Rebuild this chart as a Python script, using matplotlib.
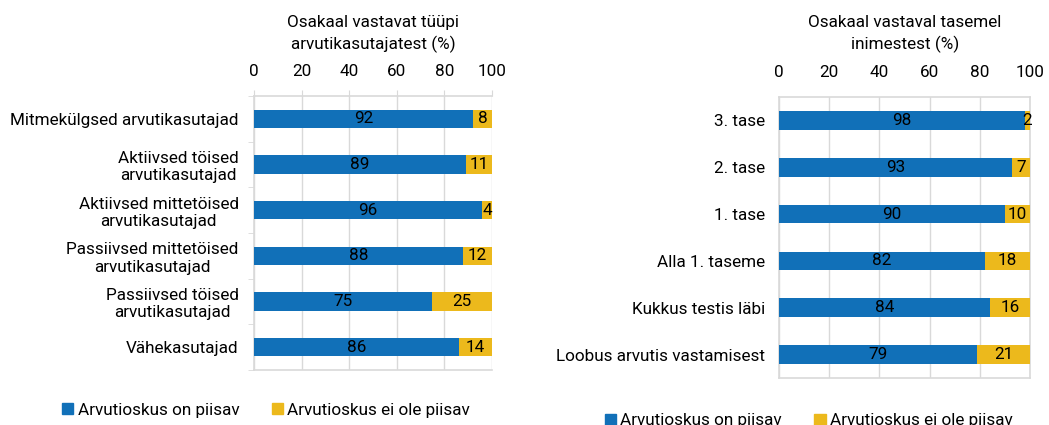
import matplotlib.pyplot as plt
from matplotlib.patches import Patch

plt.rcParams['font.family'] = ['Roboto', 'DejaVu Sans']
FS = 12.3
plt.rcParams['font.size'] = FS

# user types
types = ["Mitmekülgsed arvutikasutajad", "Aktiivsed töised\narvutikasutajad",
         "Aktiivsed mittetöised\narvutikasutajad", "Passiivsed mittetöised\narvutikasutajad",
         "Passiivsed töised\narvutikasutajad", "Vähekasutajad"]
types_ok = [92, 89, 96, 88, 75, 86]
types_not = [8, 11, 4, 12, 25, 14]

# skill levels
levels = ["3. tase", "2. tase", "1. tase", "Alla 1. taseme",
          "Kukkus testis läbi", "Loobus arvutis vastamisest"]
levels_ok = [98, 93, 90, 82, 84, 79]
levels_not = [2, 7, 10, 18, 16, 21]

ticks = [0, 20, 40, 60, 80, 100]
series_names = ["Arvutioskus on piisav", "Arvutioskus ei ole piisav"]

BLUE = "#1170B8"
YELLOW = "#ECB91C"
GRID = "#D9D9D9"


def draw_panel(ax, cats, ok, nok, boxed):
    pos = list(range(len(cats)))
    ax.barh(pos, ok, height=0.4, color=BLUE, zorder=3)
    ax.barh(pos, nok, left=ok, height=0.4, color=YELLOW, zorder=3)
    for p, a, b in zip(pos, ok, nok):
        ax.text(a / 2, p, str(a), ha='center', va='center', fontsize=FS, zorder=4)
        ax.text(a + b / 2, p, str(b), ha='center', va='center', fontsize=FS, zorder=4)
    ax.set_xlim(0, 100)
    ax.set_ylim(len(cats) - 0.5, -0.5)
    ax.set_xticks(ticks)
    ax.xaxis.tick_top()
    ax.grid(axis='x', color=GRID, lw=1, zorder=0)
    ax.set_yticks(pos)
    ax.set_yticklabels(cats, multialignment='center', linespacing=1.2)
    for s in ax.spines.values():
        s.set_color(GRID)
        s.set_linewidth(1.2)
    if boxed:
        ax.tick_params(axis='x', length=0, pad=12, labelsize=FS)
        ax.tick_params(axis='y', length=0, pad=10, labelsize=FS)
    else:
        ax.spines['right'].set_visible(False)
        ax.tick_params(axis='x', length=4.5, color=GRID, pad=8, labelsize=FS)
        ax.set_yticks([p + 0.5 for p in [-1] + pos], minor=True)
        ax.tick_params(axis='y', which='major', length=0, pad=11, labelsize=FS)
        ax.tick_params(axis='y', which='minor', length=4.5, color=GRID)


fig = plt.figure(figsize=(10.49, 4.25), dpi=100)
ax1 = fig.add_axes([0.2421, 0.1294, 0.2269, 0.6447])
ax2 = fig.add_axes([0.7426, 0.1106, 0.2393, 0.6612])

draw_panel(ax1, types, types_ok, types_not, boxed=False)
draw_panel(ax2, levels, levels_ok, levels_not, boxed=True)

fig.text(0.3556, 1 - 34 / 425, "Osakaal vastavat tüüpi\narvutikasutajatest (%)",
         ha='center', va='center', fontsize=FS, linespacing=1.4)
fig.text(0.8624, 1 - 34 / 425, "Osakaal vastaval tasemel\ninimestest (%)",
         ha='center', va='center', fontsize=FS, linespacing=1.4)

handles = [Patch(color=BLUE), Patch(color=YELLOW)]
leg_kw = dict(ncol=2, frameon=False, fontsize=FS, handlelength=0.65, handleheight=0.65,
              handletextpad=0.25, columnspacing=1.9, loc='center')
fig.legend(handles, series_names, bbox_to_anchor=(0.2536, 1 - 410 / 425), **leg_kw)
fig.legend(handles, series_names, bbox_to_anchor=(0.771, 1 - 421 / 425), **leg_kw)

fig.savefig("out.png", dpi=100)
